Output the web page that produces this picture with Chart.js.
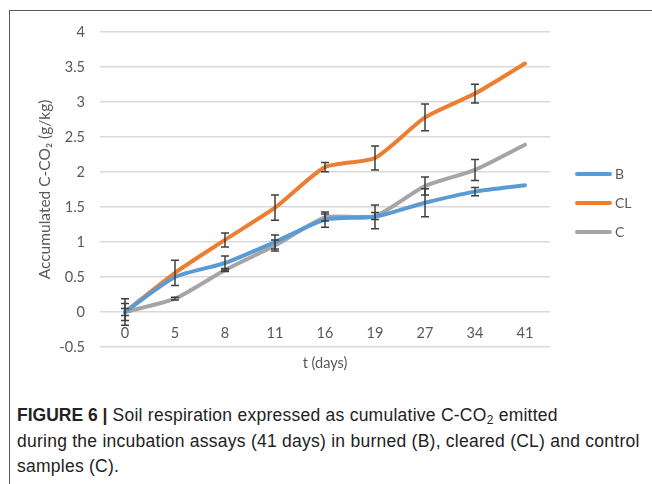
<!DOCTYPE html>
<html>
<head>
<meta charset="utf-8">
<script src="https://cdn.jsdelivr.net/npm/chart.js@4/dist/chart.umd.min.js"></script>
<style>
  html, body { margin: 0; padding: 0; background: #fff; }
  body { width: 652px; height: 484px; position: relative; overflow: hidden; }
  .frame { position: absolute; left: 9px; top: 10px; right: -5px; bottom: -5px;
           border-left: 1.5px solid #5a5a5a; border-top: 1.5px solid #5a5a5a; }
  #wrap { position: absolute; left: 0; top: 0; width: 652px; height: 380px; }
  #legend { position: absolute; left: 575px; top: 159px; font: 14px Lato, sans-serif; color: #595959; }
  #legend div { height: 29px; display: flex; align-items: center; }
  #legend span.ln { display: inline-block; width: 37px; height: 4px; border-radius: 2px; margin-right: 3px; }
  .caption { position: absolute; left: 17px; top: 403px; width: 635px; white-space: nowrap;
             font: 17.5px "Liberation Sans", Arial, sans-serif; letter-spacing: 0.25px;
             line-height: 25.5px; color: #222; }
  .caption b { font-weight: bold; letter-spacing: 0; }
  .caption sub { font-size: 12px; vertical-align: -3px; line-height: 0; }
</style>
</head>
<body>
<div class="frame"></div>
<div id="wrap"><canvas id="chart"></canvas></div>
<div id="legend"></div>
<div class="caption"><b>FIGURE 6 |</b> Soil respiration expressed as cumulative C-CO<sub>2</sub> emitted<br>during the incubation assays (41 days) in burned (B), cleared (CL) and control<br>samples (C).</div>
<script>
// chart data
const days = ['0', '5', '8', '11', '16', '19', '27', '34', '41'];
const seriesNames = ['B', 'CL', 'C'];
const seriesColors = ['#5B9BD5', '#ED7D31', '#A5A5A5'];
const valuesB  = [0, 0.50, 0.70, 1.00, 1.32, 1.36, 1.56, 1.72, 1.81];
const valuesCL = [0, 0.56, 1.03, 1.49, 2.07, 2.20, 2.78, 3.12, 3.55];
const valuesC  = [0, 0.19, 0.60, 0.95, 1.35, 1.37, 1.80, 2.03, 2.39];
// +/- error per point (0 = no bar)
const errB  = [0.12, 0, 0.10, 0.10, 0.11, 0.17, 0.20, 0.06, 0];
const errCL = [0.19, 0.18, 0.10, 0.18, 0.065, 0.17, 0.19, 0.135, 0];
const errC  = [0.05, 0.02, 0.02, 0.08, 0.05, 0.05, 0.13, 0.15, 0];
const yTicks = { min: -0.5, max: 4, step: 0.5 };

const allValues = [valuesB, valuesCL, valuesC];
const allErrors = [errB, errCL, errC];

// error bars on top of the lines
const errorBars = {
    id: 'errorBars',
    afterDatasetsDraw(chart) {
        const ctx = chart.ctx;
        const x = chart.scales.x, y = chart.scales.y;
        ctx.save();
        ctx.strokeStyle = '#3f3f3f';
        ctx.lineWidth = 1.5;
        chart.data.datasets.forEach((ds, di) => {
            const errs = allErrors[di];
            ds.data.forEach((v, i) => {
                const e = errs[i];
                if (!e) return;
                const px = x.getPixelForValue(i);
                const top = y.getPixelForValue(v + e);
                const bot = y.getPixelForValue(v - e);
                ctx.beginPath();
                ctx.moveTo(px, top); ctx.lineTo(px, bot);
                ctx.moveTo(px - 4, top); ctx.lineTo(px + 4, top);
                ctx.moveTo(px - 4, bot); ctx.lineTo(px + 4, bot);
                ctx.stroke();
            });
        });
        ctx.restore();
    }
};

// category labels sit just under the zero line, like Excel does
const zeroAxisLabels = {
    id: 'zeroAxisLabels',
    afterDraw(chart) {
        const ctx = chart.ctx;
        const x = chart.scales.x, y = chart.scales.y;
        const y0 = y.getPixelForValue(0);
        ctx.save();
        ctx.font = '14.5px Lato, sans-serif';
        ctx.fillStyle = '#595959';
        ctx.textAlign = 'center';
        ctx.textBaseline = 'middle';
        days.forEach((d, i) => ctx.fillText(d, x.getPixelForValue(i), y0 + 21));
        ctx.restore();
    }
};

new Chart(document.getElementById('chart'), {
    type: 'line',
    data: {
        labels: days,
        datasets: allValues.map((vals, i) => ({
            label: seriesNames[i],
            data: vals,
            borderColor: seriesColors[i],
            backgroundColor: seriesColors[i],
            borderWidth: 4,
            pointRadius: 0,
            tension: 0.2,
            borderCapStyle: 'round'
        }))
    },
    options: {
        responsive: true,
        maintainAspectRatio: false,
        animation: false,
        layout: { padding: { left: 20, right: 102, top: 32, bottom: 0 } },
        plugins: { legend: { display: false }, tooltip: { enabled: false } },
        scales: {
            x: {
                offset: true,
                grid: { display: false, drawTicks: false },
                border: { display: false },
                ticks: { display: false },
                title: { display: true, text: 't (days)', color: '#595959',
                         font: { family: 'Lato', size: 14.5 }, padding: { top: 0, bottom: 8 } },
                afterFit(scale) { scale.height = 33; }
            },
            y: {
                min: yTicks.min, max: yTicks.max,
                grid: { color: '#d9d9d9', lineWidth: 1.5, drawTicks: false },
                border: { display: false },
                ticks: { stepSize: yTicks.step, color: '#595959', padding: 15,
                         font: { family: 'Lato', size: 14.5 },
                         callback: v => String(Number(v)) },
                title: { display: true, text: 'Accumulated C-CO₂ (g/kg)', color: '#595959',
                         font: { family: 'Lato', size: 15.5 }, padding: { top: 16, bottom: 0 } },
                afterFit(scale) { scale.width = 80; }
            }
        }
    },
    plugins: [errorBars, zeroAxisLabels]
});

// legend on the right
const legend = document.getElementById('legend');
seriesNames.forEach((name, i) => {
    const row = document.createElement('div');
    row.innerHTML = `<span class="ln" style="background:${seriesColors[i]}"></span>${name}`;
    legend.appendChild(row);
});
</script>
</body>
</html>
